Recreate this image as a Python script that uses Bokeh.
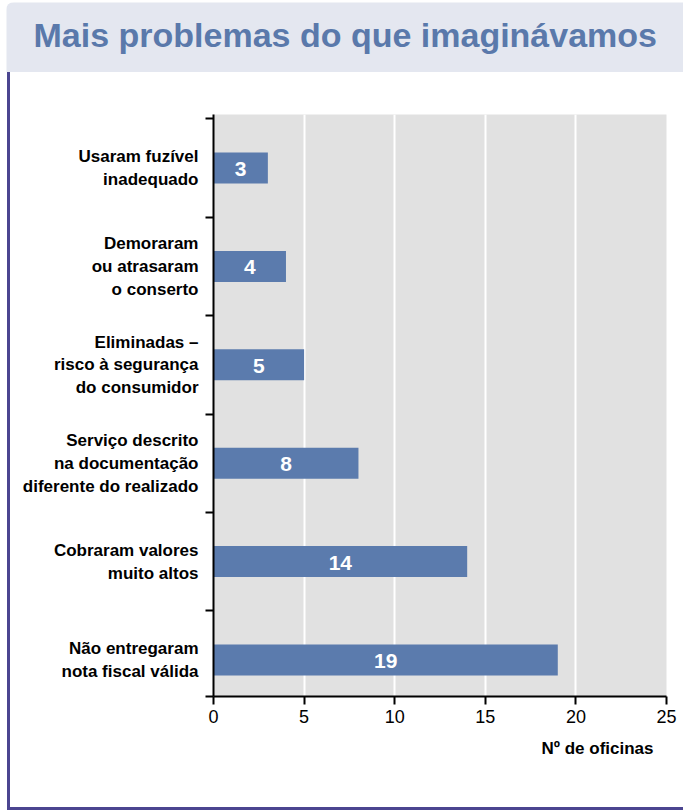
from bokeh.plotting import figure
from bokeh.layouts import column, row
from bokeh.models import (ColumnDataSource, LabelSet, Label, Range1d, FixedTicker,
                          Title, Div)
from bokeh.core.properties import value
from bokeh.embed import file_html
from bokeh.resources import INLINE

# --- data -------------------------------------------------------------
title_text = "Mais problemas do que imaginávamos"
categories = [
    "Usaram fuzível\ninadequado",
    "Demoraram\nou atrasaram\no conserto",
    "Eliminadas –\nrisco à segurança\ndo consumidor",
    "Serviço descrito\nna documentação\ndiferente do realizado",
    "Cobraram valores\nmuito altos",
    "Não entregaram\nnota fiscal válida",
]
oficinas = [3, 4, 5, 8, 14, 19]
x_ticks = [0, 5, 10, 15, 20, 25]
x_label = "Nº de oficinas"

# --- styling ----------------------------------------------------------
FONT = "Liberation Sans"
BAR = "#5b7bad"
TITLE_COL = "#5a79ab"
BAND = "#e4e7f0"
FRAME = "#4b4590"
PLOT_BG = "#e1e1e1"

# --- title band -------------------------------------------------------
band_w, band_h = 677, 70
head = figure(
    width=band_w, height=band_h,
    x_range=Range1d(0, band_w), y_range=Range1d(band_h, 0),
    output_backend="svg", toolbar_location=None,
    min_border=0, margin=(2, 0, 0, 6),
)
head.axis.visible = False
head.grid.visible = False
head.outline_line_color = None
head.background_fill_color = BAND
head.border_fill_color = BAND
head.styles = {"border-top-left-radius": "8px", "overflow": "hidden"}
head.add_layout(Label(
    x=27, y=32, text=title_text,
    text_font=FONT, text_font_style="bold", text_font_size="34px",
    text_color=TITLE_COL, text_align="left", text_baseline="middle",
))

# --- bar chart --------------------------------------------------------
n = len(categories)
pos = list(range(n - 1, -1, -1))          # first category on top
src = ColumnDataSource(dict(
    y=pos,
    v=oficinas,
    mid=[v / 2 for v in oficinas],
    txt=[str(v) for v in oficinas],
))

W, H = 673, 735
y_lo, y_hi = -0.371, 5.544
p = figure(
    width=W, height=H,
    x_range=Range1d(x_ticks[0], x_ticks[-1]),
    y_range=Range1d(y_lo, y_hi),
    output_backend="svg", toolbar_location=None,
    min_border_left=203, min_border_right=17,
    min_border_top=42, min_border_bottom=111,
)
p.background_fill_color = PLOT_BG
p.border_fill_color = "white"
p.outline_line_color = None

# vertical white grid
p.xgrid.ticker = FixedTicker(ticks=x_ticks)
p.xgrid.grid_line_color = "white"
p.xgrid.grid_line_width = 2
p.ygrid.visible = False

# bars
p.hbar(y="y", left=0, right="v", height=0.315, source=src,
       fill_color=BAR, line_color=None)

# values inside the bars
p.add_layout(LabelSet(
    x="mid", y="y", text="txt", source=src,
    text_align="center", text_baseline="middle",
    text_color="white", text_font=value(FONT), text_font_style="bold",
    text_font_size="21px", y_offset=-1,
))

# x axis
xa = p.xaxis[0]
xa.ticker = FixedTicker(ticks=x_ticks)
xa.axis_line_color = "black"
xa.axis_line_width = 2
xa.major_tick_line_color = "black"
xa.major_tick_line_width = 2
xa.major_tick_out = 8
xa.major_tick_in = 0
xa.minor_tick_line_color = None
xa.major_label_standoff = 5
xa.major_label_text_font = FONT
xa.major_label_text_font_size = "18px"
xa.major_label_text_color = "black"

# y axis: category names at the bar centres, short ticks between categories
ya = p.yaxis[0]
ya.ticker = FixedTicker(ticks=pos, minor_ticks=[y_lo] + [i + 0.5 for i in range(n)])
ya.major_label_overrides = {yy: c for yy, c in zip(pos, categories)}
ya.axis_line_color = "black"
ya.axis_line_width = 2
ya.major_tick_line_color = None
ya.major_tick_out = 0
ya.major_tick_in = 0
ya.minor_tick_line_color = "black"
ya.minor_tick_line_width = 2
ya.minor_tick_out = 8
ya.minor_tick_in = 0
ya.major_label_standoff = 7
ya.major_label_text_font = FONT
ya.major_label_text_font_style = "bold"
ya.major_label_text_font_size = "17px"
ya.major_label_text_line_height = 1.2
ya.major_label_text_color = "black"

# axis caption, right-aligned under the x axis
p.add_layout(Title(
    text=x_label, align="right", offset=13, standoff=22,
    text_font=FONT, text_font_style="bold", text_font_size="17px",
    text_color="black",
), "below")

# frame lines on the left and at the bottom
left_line = Div(width=3, height=H, margin=(0, 0, 0, 7),
                styles={"background-color": FRAME})
bottom_line = Div(width=676, height=3, margin=(0, 0, 0, 7),
                  styles={"background-color": FRAME})

page = column(head, row(left_line, p), bottom_line, spacing=0)

with open("out.html", "w") as f:
    f.write(file_html(page, INLINE))
